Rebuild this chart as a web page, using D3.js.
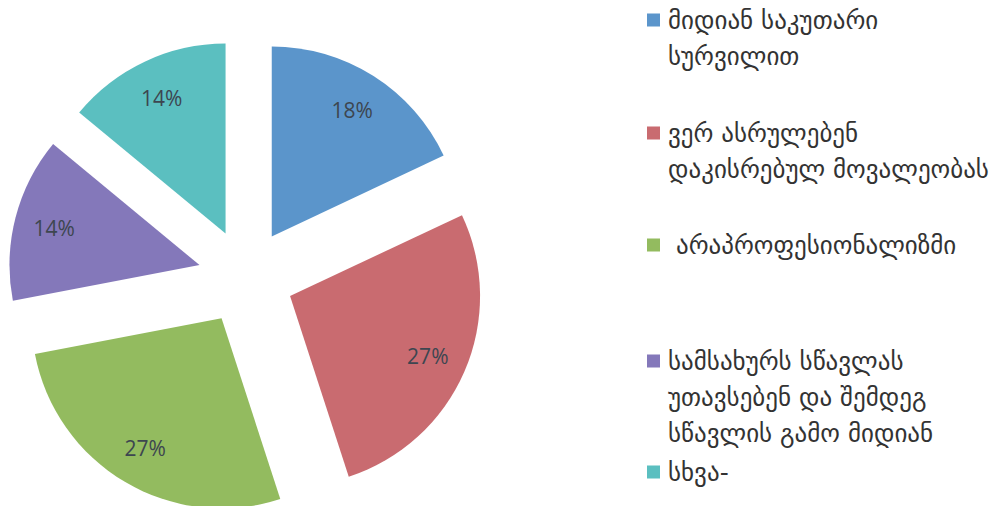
<!DOCTYPE html>
<html>
<head>
<meta charset="utf-8">
<script src="https://cdn.jsdelivr.net/npm/d3@7"></script>
<style>
  html, body { margin: 0; padding: 0; background: #fff; }
  svg { display: block; }
</style>
</head>
<body>
<svg id="chart" width="995" height="506"></svg>
<script>
// ---- data ----
const categories = [
  ["მიდიან საკუთარი", "სურვილით"],
  ["ვერ ასრულებენ", "დაკისრებულ მოვალეობას"],
  [" არაპროფესიონალიზმი"],
  ["სამსახურს სწავლას", "უთავსებენ და შემდეგ", "სწავლის გამო მიდიან"],
  ["სხვა-"]
];
const values = [18, 27, 27, 14, 14];
const valueLabels = ["18%", "27%", "27%", "14%", "14%"];
const colors = ["#5b95cb", "#c96b70", "#93bb5f", "#8478ba", "#5bbfc0"];

// ---- layout ----
const W = 995, H = 506;
const cx = 246, cy = 277, R = 190, explode = 48, labelR = 0.79 * R;
const legendX = 647, legendTextX = 668, sq = 13, lineH = 36;
const legendItemY = [20, 133, 245, 361, 472];

const svg = d3.select("#chart");

const pie = d3.pie().sort(null).value(d => d).startAngle(0).endAngle(2 * Math.PI);
const arcs = pie(values);
const arc = d3.arc().innerRadius(0).outerRadius(R);

const g = svg.append("g").attr("transform", `translate(${cx},${cy})`);

const slice = g.selectAll("g.slice").data(arcs).enter().append("g")
  .attr("class", "slice")
  .attr("transform", d => {
    const a = (d.startAngle + d.endAngle) / 2;
    return `translate(${explode * Math.sin(a)},${-explode * Math.cos(a)})`;
  });

slice.append("path")
  .attr("d", arc)
  .attr("fill", (d, i) => colors[i]);

slice.append("text")
  .attr("x", d => labelR * Math.sin((d.startAngle + d.endAngle) / 2))
  .attr("y", d => -labelR * Math.cos((d.startAngle + d.endAngle) / 2))
  .attr("text-anchor", "middle")
  .attr("dominant-baseline", "central")
  .attr("font-family", "'Open Sans', 'Noto Sans', sans-serif")
  .attr("font-size", 21)
  .attr("fill", "#3d4650")
  .text((d, i) => valueLabels[i]);

// legend
const leg = svg.append("g");
const item = leg.selectAll("g.item").data(categories).enter().append("g")
  .attr("class", "item")
  .attr("transform", (d, i) => `translate(0,${legendItemY[i]})`);

item.append("rect")
  .attr("x", legendX)
  .attr("y", -sq / 2)
  .attr("width", sq)
  .attr("height", sq)
  .attr("fill", (d, i) => colors[i]);

item.append("text")
  .attr("font-family", "'DejaVu Sans', sans-serif")
  .attr("font-size", 25)
  .attr("fill", "#333")
  .attr("xml:space", "preserve")
  .style("white-space", "pre")
  .selectAll("tspan").data(d => d).enter().append("tspan")
  .attr("x", legendTextX)
  .attr("y", (d, j) => j * lineH)
  .attr("dominant-baseline", "central")
  .text(d => d);
</script>
</body>
</html>
